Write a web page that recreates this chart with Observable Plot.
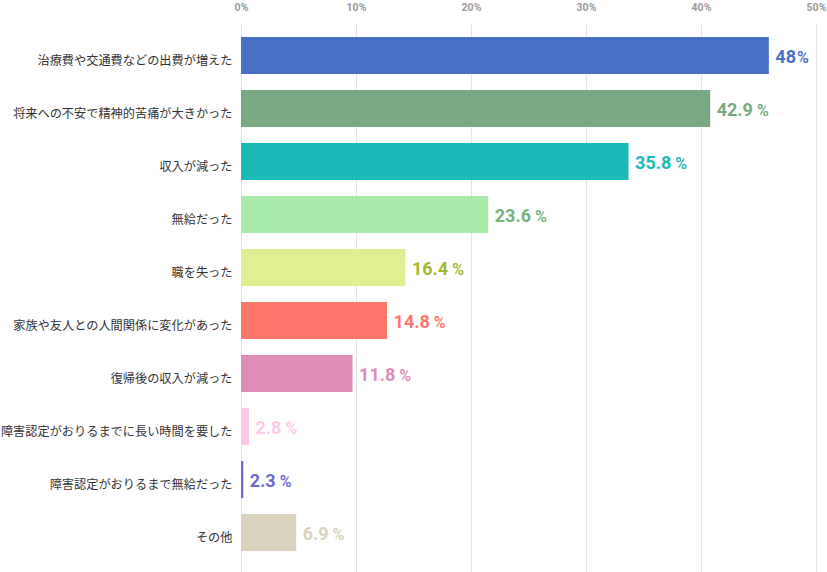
<!DOCTYPE html>
<html>
<head>
<meta charset="utf-8">
<script src="https://cdn.jsdelivr.net/npm/d3@7"></script>
<script src="https://cdn.jsdelivr.net/npm/@observablehq/plot@0.6"></script>
<style>
  html, body { margin: 0; padding: 0; background: #fff; }
  #chart svg { display: block; }
</style>
</head>
<body>
<div id="chart"></div>
<script>
const categories = [
  "治療費や交通費などの出費が増えた",
  "将来への不安で精神的苦痛が大きかった",
  "収入が減った",
  "無給だった",
  "職を失った",
  "家族や友人との人間関係に変化があった",
  "復帰後の収入が減った",
  "障害認定がおりるまでに長い時間を要した",
  "障害認定がおりるまで無給だった",
  "その他"
];
const values = [48, 42.9, 35.8, 23.6, 16.4, 14.8, 11.8, 2.8, 2.3, 6.9];
const barColors = ["#4770C6", "#79A983", "#1BBAB6", "#A8EAA9", "#E1EE92", "#FF766A", "#DE8CB8", "#FFC8E8", "#6A6AD2", "#DAD3BE"];
const labelColors = ["#4770C6", "#79A983", "#1BBAB6", "#74B47A", "#A3B82C", "#FF766A", "#DE8CB8", "#FFC8E8", "#6A6AD2", "#DAD3BE"];
const tickLabels = ["0%", "10%", "20%", "30%", "40%", "50%"];
// the reference draws the bars from a baseline of about 2.1 units while labelling that position 0%
const baseline = 2.1;

const data = categories.map((c, i) => ({
  category: c, value: values[i], bar: barColors[i], label: labelColors[i]
}));
const tickValues = tickLabels.map((t, i) => baseline + i * 10);

const plot = Plot.plot({
  width: 827,
  height: 572,
  marginLeft: 241,
  marginRight: 11,
  marginTop: 24,
  marginBottom: 0,
  style: { fontFamily: "Roboto, 'Noto Sans CJK JP', sans-serif", background: "#fff" },
  x: { domain: [baseline, baseline + 50], axis: null, label: null },
  y: { domain: categories, paddingInner: 0.31, paddingOuter: 0.277, align: 0.37, axis: null, label: null },
  marks: [
    Plot.ruleX(tickValues, { stroke: "#e3e3e3", strokeWidth: 1 }),
    Plot.axisX({
      anchor: "top", ticks: tickValues, tickSize: 0, tickPadding: 14, label: null,
      tickFormat: (d, i) => tickLabels[i],
      fontSize: 10.5, fontWeight: "bold", fill: "#9a9a9a"
    }),
    Plot.axisY({
      anchor: "left", tickSize: 0, tickPadding: 9, dy: 5.5, label: null,
      fontSize: 12.2, fill: "#333",
      fontFamily: "'Noto Sans CJK JP', sans-serif"
    }),
    Plot.barX(data, {
      y: "category", x1: baseline, x2: "value", fill: (d) => d.bar
    }),
    Plot.text(data, {
      y: "category", x: "value", text: (d) => String(d.value),
      fill: (d) => d.label, textAnchor: "start", dx: 6, dy: 1,
      fontSize: 18, fontWeight: "bold", fontFamily: "Roboto, sans-serif"
    })
  ]
});

document.getElementById("chart").appendChild(plot);

// split each value label into number + smaller percent sign
const valueStrings = new Set(values.map(String));
d3.select(plot).selectAll("text").each(function () {
  const g = this.parentNode;
  if (!g || g.getAttribute("font-size") !== "18") return;
  const t = this.textContent;
  if (!valueStrings.has(t)) return;
  const sel = d3.select(this);
  sel.text(null);
  sel.append("tspan").text(t);
  sel.append("tspan").attr("font-size", 16).attr("font-weight", 600)
    .attr("dx", t.includes(".") ? 4 : 1).text("%");
});
</script>
</body>
</html>
